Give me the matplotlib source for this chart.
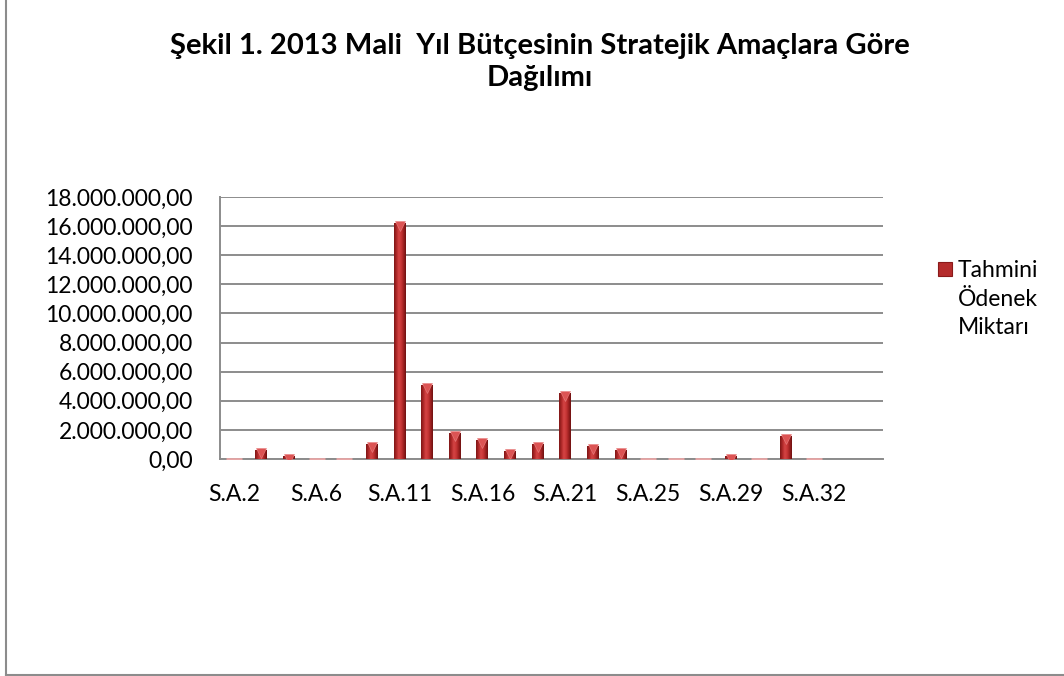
import matplotlib
matplotlib.use('Agg')
import matplotlib.pyplot as plt
import numpy as np
from matplotlib.lines import Line2D
from matplotlib.patches import Rectangle
import matplotlib.transforms as mtransforms
from matplotlib.colors import LinearSegmentedColormap
from matplotlib.ticker import FixedLocator, FixedFormatter

plt.rcParams['font.family'] = ['Lato', 'DejaVu Sans']

# ---- data ----
categories = ["S.A.2", "S.A.3", "S.A.5", "S.A.6", "S.A.7", "S.A.9",
              "S.A.11", "S.A.12", "S.A.14", "S.A.16", "S.A.18", "S.A.20",
              "S.A.21", "S.A.22", "S.A.24", "S.A.25", "S.A.27", "S.A.28",
              "S.A.29", "S.A.30", "S.A.31", "S.A.32", "S.A.33", "S.A.34"]
values = [0, 600000, 200000, 0, 0, 1000000,
          16200000, 5070000, 1790000, 1280000, 530000, 1000000,
          4560000, 920000, 600000, 0, 0, 0,
          180000, 0, 1580000, 0, np.nan, np.nan]
label_step = 3
yticks = [0, 2000000, 4000000, 6000000, 8000000, 10000000,
          12000000, 14000000, 16000000, 18000000]
title = "Şekil 1. 2013 Mali  Yıl Bütçesinin Stratejik Amaçlara Göre\nDağılımı"
legend_label = "Tahmini\nÖdenek\nMiktarı"


def tr_fmt(v):
    s = f"{v:,.2f}"
    return s.replace(",", "X").replace(".", ",").replace("X", ".")


W, H = 1064, 676
fig = plt.figure(figsize=(W / 100, H / 100), dpi=100)
fig.patch.set_facecolor('white')
ax = fig.add_axes([220 / W, 1 - 459 / H, (883 - 220) / W, (459 - 197) / H])

x = np.arange(len(categories))
vals = np.array(values, dtype=float)
bw = 0.43

cmap = LinearSegmentedColormap.from_list(
    'cyl', ['#7e1616', '#ad2727', '#d44444', '#c83737', '#a02121', '#6e1111'])
grad = np.linspace(0, 1, 64).reshape(1, -1)

plot_vals = np.where(np.isnan(vals), 0, vals)
bars = ax.bar(x, plot_vals, width=bw, color='none', edgecolor='none', zorder=3)
for rect, v in zip(bars, vals):
    if np.isnan(v) or v <= 0:
        continue
    x0 = rect.get_x()
    im = ax.imshow(grad, extent=[x0, x0 + rect.get_width(), 0, rect.get_height()],
                   aspect='auto', cmap=cmap, zorder=3, interpolation='bilinear')
    im.set_clip_path(rect)

# pyramid caps on top of bars
pos = ~np.isnan(vals) & (vals > 0)
cap_tr = mtransforms.offset_copy(ax.transData, fig=fig, x=0, y=-3, units='dots')
ax.plot(x[pos], vals[pos], linestyle='none', marker='v', markersize=7.5,
        markerfacecolor='#dc5454', markeredgecolor='#e88080', markeredgewidth=0.4,
        transform=cap_tr, zorder=4)
# zero-value bars: faint stubs at the baseline
zero = ~np.isnan(vals) & (vals == 0)
ax.plot(x[zero], vals[zero], linestyle='none', marker='_', markersize=11,
        markeredgewidth=2.0, color='#e6a6a6', zorder=4)

ax.set_xlim(-0.5, len(categories) - 0.5)
ax.set_ylim(0, 18000000)

ax.yaxis.set_major_locator(FixedLocator(yticks))
ax.yaxis.set_major_formatter(FixedFormatter([tr_fmt(v) for v in yticks]))
ax.set_xticks(x[::label_step])
ax.set_xticklabels(categories[::label_step])
ax.tick_params(axis='both', length=0, labelsize=16.5, colors='black')
ax.tick_params(axis='y', pad=19.5)
ax.tick_params(axis='x', pad=18)

ax.yaxis.grid(True, color='#8c8c8c', linewidth=1.4, zorder=1)
ax.set_axisbelow(True)
for side in ['top', 'right']:
    ax.spines[side].set_visible(False)
for side in ['left', 'bottom']:
    ax.spines[side].set_color('#8c8c8c')
    ax.spines[side].set_linewidth(1.4)

fig.text(540 / W, 1 - 62 / H, title, ha='center', va='center',
         fontsize=21, fontweight='bold', linespacing=1.32)

# legend
fig.patches.append(Rectangle((938 / W, 1 - 276 / H), 14 / W, 14 / H,
                             transform=fig.transFigure, facecolor='#b52c2c',
                             edgecolor='#8a1a1a', linewidth=0.8))
fig.text(958 / W, 1 - 299 / H, legend_label, ha='left', va='center',
         fontsize=16.5, linespacing=1.45)

# chart-area border
fig.add_artist(Line2D([6 / W, 6 / W], [0.5 / H, 1], transform=fig.transFigure,
                      color='#8c8c8c', linewidth=1.5))
fig.add_artist(Line2D([6 / W, 1], [0.8 / H, 0.8 / H], transform=fig.transFigure,
                      color='#8c8c8c', linewidth=1.5))

fig.savefig('out.png', dpi=100, facecolor='white')
